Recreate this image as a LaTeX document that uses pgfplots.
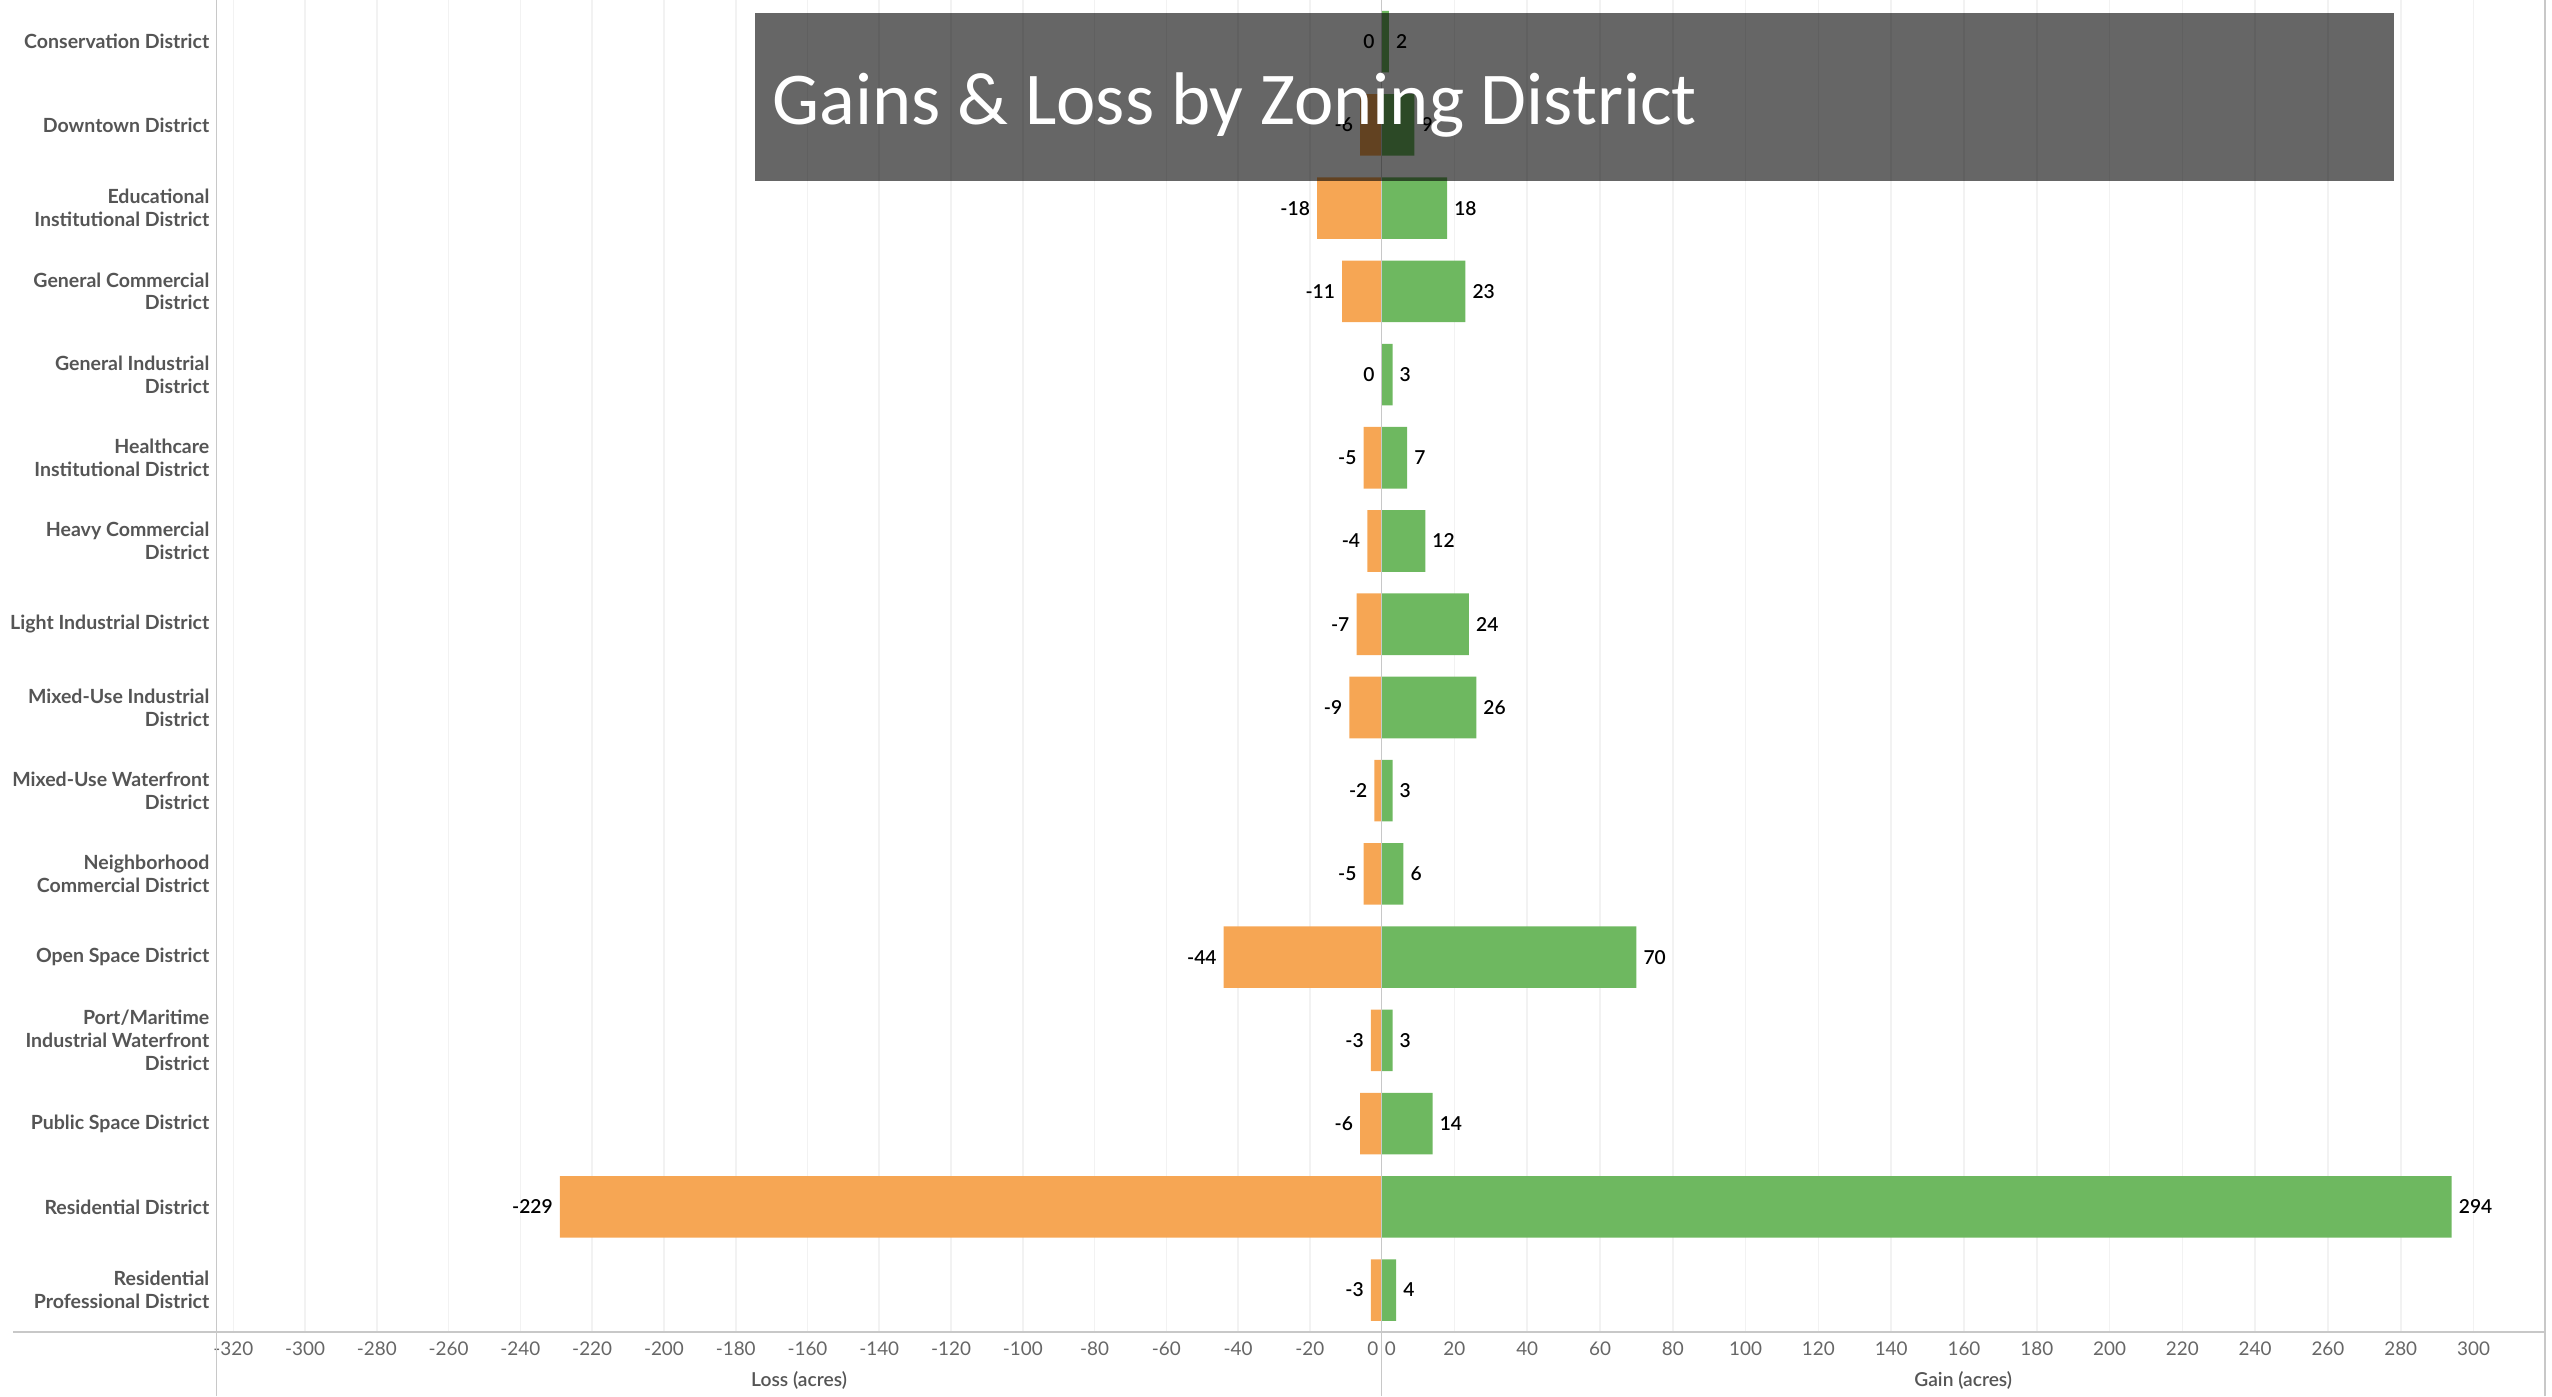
\documentclass[border=0pt]{standalone}
\usepackage{pgfplots}
\usepackage{pgfplotstable}
\pgfplotsset{compat=1.18}
\usepackage{fontspec}
\setmainfont{Lato}
\newfontfamily\carlito{Carlito}
\newfontfamily\latosemi{Lato Semibold}
\definecolor{lossc}{RGB}{246,166,84}
\definecolor{gainc}{RGB}{110,184,96}
\definecolor{gridc}{RGB}{242,242,242}
\definecolor{axisc}{RGB}{200,200,200}
\definecolor{tickc}{RGB}{102,102,102}
\definecolor{catc}{RGB}{85,85,85}

\pgfplotstableread{
idx loss gain
1 0 2
2 -6 9
3 -18 18
4 -11 23
5 0 3
6 -5 7
7 -4 12
8 -7 24
9 -9 26
10 -2 3
11 -5 6
12 -44 70
13 -3 3
14 -6 14
15 -229 294
16 -3 4
}\zoning

\pgfplotsset{
  common/.style={
    scale only axis, height=409.1pt,
    xbar, bar width=0.74, bar shift=0pt,
    ymin=0.5, ymax=16.5, y dir=reverse,
    axis line style={draw=none}, major tick length=0pt,
    xmajorgrids, grid style={gridc, line width=0.5pt},
    /pgf/number format/assume math mode=true,
    xticklabel style={font=\fontsize{5.8}{6.8}\selectfont, text=tickc, anchor=base, inner sep=0pt, yshift=-7.45pt},
    xlabel style={at={(axis description cs:0.5,0)}, anchor=base, yshift=-16.7pt, font=\latosemi\fontsize{5.9}{7}\selectfont, text=catc},
    nodes near coords={\pgfmathprintnumber{\pgfplotspointmeta}},
    point meta=x,
    clip=false,
  }
}

\begin{document}
\begin{tikzpicture}
\useasboundingbox (0,0) rectangle (784pt,429pt);

\begin{axis}[common,
  at={(66.5pt,19.9pt)}, anchor=south west, width=357.95pt,
  xmin=-324.7, xmax=0,
  xtick={-320,-300,...,-20},
  extra x ticks={0},
  extra x tick style={grid=none, xticklabel style={anchor=base east, inner xsep=0.8pt}},
  ytick={1,...,16},
  yticklabels={
    {Conservation District},
    {Downtown District},
    {Educational\\Institutional District},
    {General Commercial\\District},
    {General Industrial\\District},
    {Healthcare\\Institutional District},
    {Heavy Commercial\\District},
    {Light Industrial District},
    {Mixed-Use Industrial\\District},
    {Mixed-Use Waterfront\\District},
    {Neighborhood\\Commercial District},
    {Open Space District},
    {Port/Maritime\\Industrial Waterfront\\District},
    {Public Space District},
    {Residential District},
    {Residential\\Professional District}},
  yticklabel style={align=right, font=\bfseries\fontsize{6}{7}\selectfont, text=catc, anchor=east, inner sep=0pt, xshift=-2pt},
  nodes near coords style={anchor=east, inner xsep=2pt, inner ysep=0pt, font=\latosemi\fontsize{5.9}{7}\selectfont, text=black},
  xlabel={Loss (acres)},
]
\addplot[fill=lossc, draw=none] table[x=loss, y=idx] {\zoning};
\end{axis}

\begin{axis}[common,
  at={(424.45pt,19.9pt)}, anchor=south west, width=357.35pt,
  xmin=0, xmax=319.6,
  xtick={20,40,...,300},
  extra x ticks={0},
  extra x tick style={grid=none, xticklabel style={anchor=base west, inner xsep=0.8pt}},
  ytick=\empty,
  nodes near coords style={anchor=west, inner xsep=2pt, inner ysep=0pt, font=\latosemi\fontsize{5.9}{7}\selectfont, text=black},
  xlabel={Gain (acres)},
]
\addplot[fill=gainc, draw=none] table[x=gain, y=idx] {\zoning};
\end{axis}

\draw[axisc, line width=0.6pt] (4pt,19.9pt) -- (781.8pt,19.9pt);
\draw[axisc, line width=0.5pt] (66.5pt,0pt) -- (66.5pt,429pt);
\draw[axisc, line width=0.5pt] (424.45pt,0pt) -- (424.45pt,429pt);
\draw[axisc, line width=0.5pt] (781.8pt,0pt) -- (781.8pt,429pt);

\fill[black, opacity=0.6] (232pt,373.5pt) rectangle (735.5pt,425pt);
\node[anchor=base west, inner sep=0pt, text=white, font=\carlito\fontsize{22.9}{27}\selectfont] at (237.2pt,390.9pt) {Gains \& Loss by Zoning District};
\end{tikzpicture}
\end{document}
